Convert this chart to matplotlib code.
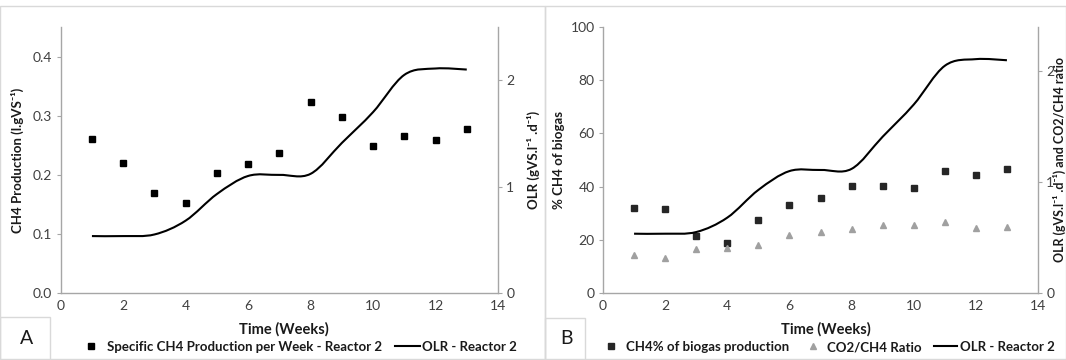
import matplotlib
matplotlib.use("Agg")
import matplotlib.pyplot as plt
from matplotlib.path import Path
from matplotlib.patches import PathPatch, Rectangle
from matplotlib.lines import Line2D

plt.rcParams['font.family'] = ['Lato', 'DejaVu Sans']

# data
weeks = [1, 2, 3, 4, 5, 6, 7, 8, 9, 10, 11, 12, 13]
ch4_prod = [0.260, 0.220, 0.170, 0.153, 0.203, 0.219, 0.237, 0.323, 0.298, 0.249, 0.265, 0.259, 0.278]
olr = [0.535, 0.535, 0.55, 0.68, 0.93, 1.10, 1.11, 1.12, 1.41, 1.70, 2.05, 2.11, 2.10]
ch4_pct = [32.0, 31.4, 21.5, 18.8, 27.6, 33.1, 35.8, 40.1, 40.3, 39.5, 45.8, 44.5, 46.6]
co2_ratio = [0.343, 0.312, 0.40, 0.41, 0.435, 0.52, 0.547, 0.577, 0.61, 0.615, 0.643, 0.589, 0.60]

W, H = 1066, 360
TICK_COL = '#404040'
SPINE_COL = '#a6a6a6'
BORDER_COL = '#d9d9d9'
TEXT_COL = '#1a1a1a'


def fx(x):
    return x / W


def fy(y):
    return 1 - y / H


def smooth_path(x, y):
    # excel style smoothed line, bezier segments through every point
    verts = [(x[0], y[0])]
    codes = [Path.MOVETO]
    n = len(x)
    for i in range(n - 1):
        xp, yp = (x[i - 1], y[i - 1]) if i > 0 else (x[i], y[i])
        xn, yn = (x[i + 2], y[i + 2]) if i + 2 < n else (x[i + 1], y[i + 1])
        c1 = (x[i] + (x[i + 1] - xp) / 6, y[i] + (y[i + 1] - yp) / 6)
        c2 = (x[i + 1] - (xn - x[i]) / 6, y[i + 1] - (yn - y[i]) / 6)
        verts += [c1, c2, (x[i + 1], y[i + 1])]
        codes += [Path.CURVE4] * 3
    return Path(verts, codes)


def style_axes(ax, ax2):
    for a in (ax, ax2):
        a.spines['top'].set_visible(False)
        for s in ('left', 'right', 'bottom'):
            a.spines[s].set_color(SPINE_COL)
            a.spines[s].set_linewidth(1.0)
        a.tick_params(colors=TICK_COL, labelsize=10, length=3, width=0.8, pad=3)
        a.tick_params(axis='y', color=SPINE_COL)
    ax.tick_params(axis='x', length=0, pad=5)
    ax2.spines['left'].set_visible(False)
    ax2.spines['bottom'].set_visible(False)
    ax.spines['right'].set_visible(False)
    ax.set_xlim(0, 14)
    ax.set_xticks(range(0, 15, 2))


fig = plt.figure(figsize=(W / 100, H / 100), dpi=100)

# panel borders
for x0, x1 in ((0, 545), (545, W)):
    fig.add_artist(Rectangle((fx(x0), fy(359)), fx(x1 - x0), (359 - 6) / H,
                             transform=fig.transFigure, fill=False, ec=BORDER_COL, lw=1))

# ---------- panel A ----------
axA = fig.add_axes([fx(60.7), fy(293), fx(498 - 60.7), (293 - 27) / H])
axA2 = axA.twinx()
style_axes(axA, axA2)
axA.set_ylim(0, 0.45)
axA.set_yticks([0.0, 0.1, 0.2, 0.3, 0.4])
axA.set_yticklabels(['0.0', '0.1', '0.2', '0.3', '0.4'])
axA2.set_ylim(0, 2.5)
axA2.set_yticks([0, 1, 2])

axA.plot(weeks, ch4_prod, 's', color='black', ms=4.8, zorder=3)
axA2.add_patch(PathPatch(smooth_path(weeks, olr), fill=False, ec='black', lw=1.5))

fig.text(fx(17), fy(160), 'CH4 Production (l.gVS⁻¹)', rotation=90, ha='center', va='center',
         fontsize=9.5, fontweight='bold', color=TEXT_COL)
fig.text(fx(533), fy(160), 'OLR (gVS.l⁻¹ .d⁻¹)', rotation=90, ha='center', va='center',
         fontsize=9.5, fontweight='bold', color=TEXT_COL)
fig.text(fx(284), fy(329), 'Time (Weeks)', ha='center', va='center',
         fontsize=10.5, fontweight='bold', color=TEXT_COL)

hA = [Line2D([], [], ls='none', marker='s', color='black', ms=4.8),
      Line2D([], [], color='black', lw=1.5)]
fig.legend(hA, ['Specific CH4 Production per Week - Reactor 2', 'OLR - Reactor 2'],
           loc='center', bbox_to_anchor=(fx(298), fy(347)), ncol=2, frameon=False,
           prop={'size': 9.5, 'weight': 'bold'}, handlelength=1.9, handletextpad=0.2,
           columnspacing=1.0, labelcolor=TEXT_COL)

fig.add_artist(Rectangle((fx(0), fy(360)), fx(50), 43 / H, transform=fig.transFigure,
                         fill=False, ec=BORDER_COL, lw=1))
fig.text(fx(27), fy(339), 'A', ha='center', va='center', fontsize=14, color=TEXT_COL)

# ---------- panel B ----------
axB = fig.add_axes([fx(603), fy(293), fx(1038 - 603), (293 - 27) / H])
axB2 = axB.twinx()
style_axes(axB, axB2)
axB.set_ylim(0, 100)
axB.set_yticks([0, 20, 40, 60, 80, 100])
axB2.set_ylim(0, 2.4)
axB2.set_yticks([0, 1, 2])

axB.plot(weeks, ch4_pct, 's', color='#262626', ms=4.8, zorder=3)
axB2.plot(weeks, co2_ratio, '^', color='#a0a0a0', ms=4.8, zorder=3)
axB2.add_patch(PathPatch(smooth_path(weeks, olr), fill=False, ec='black', lw=1.5))

fig.text(fx(559), fy(160), '% CH4 of biogas', rotation=90, ha='center', va='center',
         fontsize=9.5, fontweight='bold', color=TEXT_COL)
fig.text(fx(1059), fy(160), 'OLR (gVS.l⁻¹ .d⁻¹) and CO2/CH4 ratio', rotation=90,
         ha='center', va='center', fontsize=9, fontweight='bold', color=TEXT_COL)
fig.text(fx(826), fy(329), 'Time (Weeks)', ha='center', va='center',
         fontsize=10.5, fontweight='bold', color=TEXT_COL)

hB = [Line2D([], [], ls='none', marker='s', color='#262626', ms=4.8),
      Line2D([], [], ls='none', marker='^', color='#a0a0a0', ms=4.8),
      Line2D([], [], color='black', lw=1.5)]
fig.legend(hB, ['CH4% of biogas production', 'CO2/CH4 Ratio', 'OLR - Reactor 2'],
           loc='center', bbox_to_anchor=(fx(827), fy(347)), ncol=3, frameon=False,
           prop={'size': 9.5, 'weight': 'bold'}, handlelength=1.8, handletextpad=0.2,
           columnspacing=0.9, labelcolor=TEXT_COL)

fig.add_artist(Rectangle((fx(545), fy(360)), fx(40), 42 / H, transform=fig.transFigure,
                         fill=False, ec=BORDER_COL, lw=1))
fig.text(fx(566), fy(339), 'B', ha='center', va='center', fontsize=14, color=TEXT_COL)

fig.savefig('out.png', dpi=100)
